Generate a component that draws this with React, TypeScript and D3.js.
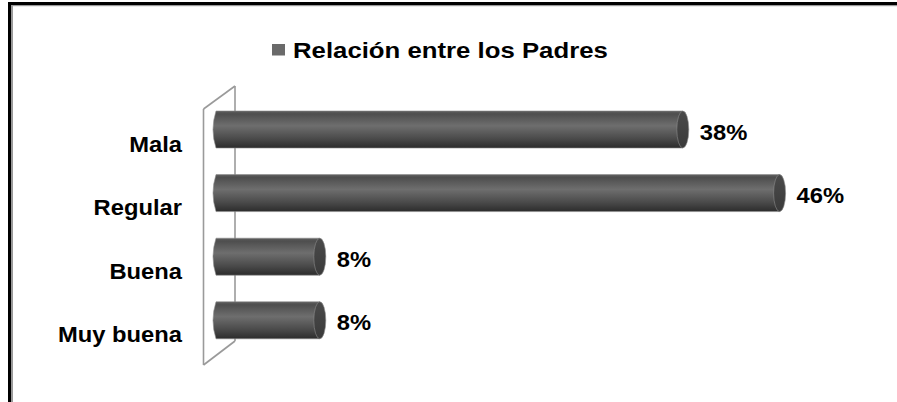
import React from "react";
import * as d3 from "d3";

const categories = ["Mala", "Regular", "Buena", "Muy buena"];
const values = [38, 46, 8, 8];
const valueLabels = ["38%", "46%", "8%", "8%"];
const legendLabel = "Relación entre los Padres";

const W = 897;
const H = 402;
const FONT = "'Liberation Sans', Arial, sans-serif";

export default function App() {
  const x = d3.scaleLinear().domain([0, 50]).range([223, 828]);
  const y = d3.scalePoint<string>().domain(categories).range([129.5, 320.3]);
  const barH = 37;
  const ry = barH / 2;
  const rx = 6;
  const barLeft = 213;
  const stretch = 1.08;

  const bodyPath = (xEnd: number, cy: number) => {
    const p = d3.path();
    p.moveTo(barLeft + 3, cy - ry);
    p.lineTo(xEnd, cy - ry);
    p.lineTo(xEnd, cy + ry);
    p.lineTo(barLeft + 3, cy + ry);
    p.quadraticCurveTo(barLeft - 3, cy, barLeft + 3, cy - ry);
    p.closePath();
    return p.toString();
  };

  return (
    <svg
      width={W}
      height={H}
      style={{ position: "absolute", left: 0, top: 0, background: "#fff" }}
      fontFamily={FONT}
    >
      <defs>
        <linearGradient id="cyl" x1="0" y1="0" x2="0" y2="1">
          <stop offset="0" stopColor="#5e5e5e" />
          <stop offset="0.08" stopColor="#4e4e4e" />
          <stop offset="0.4" stopColor="#6e6e6e" />
          <stop offset="0.75" stopColor="#4a4a4a" />
          <stop offset="1" stopColor="#2c2c2c" />
        </linearGradient>
        <linearGradient id="cap" x1="0" y1="0" x2="0" y2="1">
          <stop offset="0" stopColor="#4a4a4a" />
          <stop offset="1" stopColor="#3a3a3a" />
        </linearGradient>
      </defs>
      <rect x={0} y={0} width={W} height={H} fill="#fff" />
      {/* frame */}
      <rect x={8} y={2} width={W - 8} height={3} fill="#000" />
      <rect x={8} y={2} width={3} height={H - 2} fill="#000" />
      <rect x={11} y={5} width={W - 11} height={1.2} fill="#9a9a9a" />
      <rect x={11} y={5} width={2} height={H - 5} fill="#9a9a9a" />

      {/* legend */}
      <rect x={272} y={44} width={13} height={11.5} fill="#6a6a6a" />
      <g transform={`translate(293,58) scale(1.12,1)`}>
        <text fontSize={23} fontWeight="bold" fill="#000">
          {legendLabel}
        </text>
      </g>

      {/* 3D back wall lines */}
      <g stroke="#9a9a9a" strokeWidth={1.6} fill="none">
        <line x1={235} y1={86} x2={235} y2={341} />
        <line x1={203.5} y1={109} x2={235} y2={86} />
        <line x1={203.5} y1={365} x2={235} y2={341} />
        <line x1={203.5} y1={109} x2={203.5} y2={365} />
      </g>

      {/* bars */}
      {categories.map((c, i) => {
        const cy = y(c) as number;
        const xe = x(values[i]);
        return (
          <g key={c}>
            <path d={bodyPath(xe, cy)} fill="url(#cyl)" stroke="#8c8c8c" strokeWidth={0.6} />
            <ellipse cx={xe} cy={cy} rx={rx} ry={ry} fill="url(#cap)" stroke="#8c8c8c" strokeWidth={0.6} />
          </g>
        );
      })}

      {/* category labels */}
      {categories.map((c) => (
        <g key={"l" + c} transform={`translate(182,${(y(c) as number) + 22}) scale(${stretch},1)`}>
          <text fontSize={22} fontWeight="bold" textAnchor="end" fill="#000">
            {c}
          </text>
        </g>
      ))}

      {/* value labels */}
      {categories.map((c, i) => (
        <g
          key={"v" + c}
          transform={`translate(${x(values[i]) + rx + 11},${(y(c) as number) + 10}) scale(${stretch},1)`}
        >
          <text fontSize={22} fontWeight="bold" fill="#000">
            {valueLabels[i]}
          </text>
        </g>
      ))}
    </svg>
  );
}
